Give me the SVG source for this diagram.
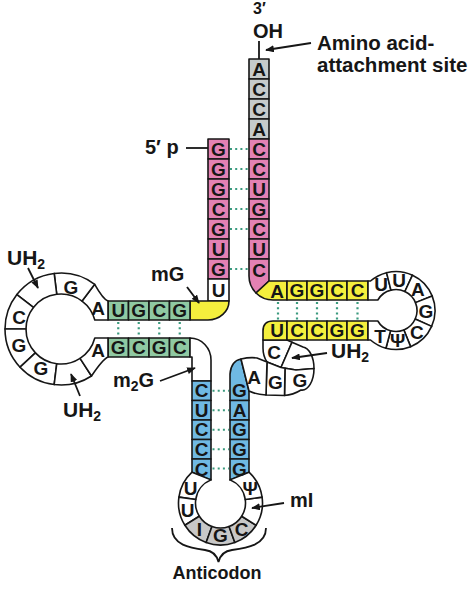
<svg xmlns="http://www.w3.org/2000/svg" width="474" height="594" viewBox="0 0 474 594">
<defs>
<style>
.c{stroke:#161616;stroke-width:1.6;stroke-linejoin:round}
.w{fill:#fff}.pk{fill:#e381b3}.gy{fill:#c6cbcb}.yl{fill:#f4ef3d}.gn{fill:#8fc9a2}.bl{fill:#6fb9e3}.ag{fill:#c8c8c8}
.nt{font-family:"Liberation Sans",Arial,sans-serif;font-weight:bold;font-size:19px;fill:#161616;text-anchor:middle;dominant-baseline:central}
.lb{font-family:"Liberation Sans",Arial,sans-serif;font-weight:bold;font-size:20px;fill:#161616}
.hb{fill:none;stroke:#3a9a7e;stroke-width:2.2;stroke-dasharray:2 3.2}
.ar{fill:none;stroke:#161616;stroke-width:1.8}
</style>
<marker id="ah" viewBox="0 0 10 8" refX="9" refY="4" markerWidth="9" markerHeight="7" markerUnits="userSpaceOnUse" orient="auto"><path d="M0,0 L10,4 L0,8 Z" fill="#161616"/></marker>
</defs>
<rect width="474" height="594" fill="#fff"/>

<g id="acceptor-stem">
<rect class="c gy" x="249" y="59" width="20" height="20"/>
<rect class="c gy" x="249" y="79" width="20" height="20"/>
<rect class="c gy" x="249" y="99" width="20" height="20"/>
<rect class="c gy" x="249" y="119" width="20" height="20"/>
<rect class="c pk" x="249" y="139" width="20" height="20"/>
<rect class="c pk" x="249" y="159" width="20" height="20"/>
<rect class="c pk" x="249" y="179" width="20" height="20"/>
<rect class="c pk" x="249" y="199" width="20" height="20"/>
<rect class="c pk" x="249" y="219" width="20" height="20"/>
<rect class="c pk" x="249" y="239" width="20" height="20"/>
<path class="c pk" d="M249,259 L269,259 L269,281 L256,293 A24,24 0 0,1 249,276 Z"/>
<rect class="c pk" x="208" y="139" width="21" height="20"/>
<rect class="c pk" x="208" y="159" width="21" height="20"/>
<rect class="c pk" x="208" y="179" width="21" height="20"/>
<rect class="c pk" x="208" y="199" width="21" height="20"/>
<rect class="c pk" x="208" y="219" width="21" height="20"/>
<rect class="c pk" x="208" y="239" width="21" height="20"/>
<rect class="c pk" x="208" y="259" width="21" height="20"/>
<rect class="c w" x="208" y="279" width="21" height="22"/>
<g class="nt">
<text x="259" y="69">A</text><text x="259" y="89">C</text><text x="259" y="109">C</text><text x="259" y="129">A</text>
<text x="259" y="149">C</text><text x="259" y="169">C</text><text x="259" y="189">U</text><text x="259" y="209">G</text>
<text x="259" y="229">C</text><text x="259" y="249">U</text><text x="259" y="270">C</text>
<text x="218.5" y="149">G</text><text x="218.5" y="169">G</text><text x="218.5" y="189">G</text><text x="218.5" y="209">C</text>
<text x="218.5" y="229">G</text><text x="218.5" y="249">U</text><text x="218.5" y="269">G</text><text x="218.5" y="290">U</text>
</g>
</g>

<g id="d-arm">
<path class="c yl" d="M190,301 L229,301 A21,19 0 0,1 208,320 L190,320 Z"/>
<rect class="c gn" x="108" y="301" width="20.5" height="19"/>
<rect class="c gn" x="128.5" y="301" width="20.5" height="19"/>
<rect class="c gn" x="149" y="301" width="20.5" height="19"/>
<rect class="c gn" x="169.5" y="301" width="20.5" height="19"/>
<rect class="c gn" x="108" y="338" width="20.5" height="19"/>
<rect class="c gn" x="128.5" y="338" width="20.5" height="19"/>
<rect class="c gn" x="149" y="338" width="20.5" height="19"/>
<rect class="c gn" x="169.5" y="338" width="20.5" height="19"/>
<path class="c w" d="M190,338 A21,22 0 0,1 211,360 L211,381 L192,381 L192,357 L190,357 Z"/>
<path class="c w" d="M94.7,284.28 Q103,299 108,301 L108,320 L94.82,320 A35,35 0 0,0 82.06,301.05 Z"/>
<path class="c w" d="M54.17,273.42 A56,56 0 0,1 94.7,284.28 L82.06,301.05 A35,35 0 0,0 56.73,294.26 Z"/>
<path class="c w" d="M16.87,294.52 A56,56 0 0,1 54.17,273.42 L56.73,294.26 A35,35 0 0,0 33.42,307.45 Z"/>
<path class="c w" d="M5,329 A56,56 0 0,1 16.87,294.52 L33.42,307.45 A35,35 0 0,0 26,329 Z"/>
<path class="c w" d="M20.04,367.19 A56,56 0 0,1 5,329 L26,329 A35,35 0 0,0 35.4,352.87 Z"/>
<path class="c w" d="M54.17,384.58 A56,56 0 0,1 20.04,367.19 L35.4,352.87 A35,35 0 0,0 56.73,363.74 Z"/>
<path class="c w" d="M91.5,375.97 A56,56 0 0,1 54.17,384.58 L56.73,363.74 A35,35 0 0,0 80.06,358.35 Z"/>
<path class="c w" d="M91.5,375.97 Q103,359 108,357 L108,338 L94.82,338 A35,35 0 0,1 80.06,358.35 Z"/>
<g class="nt">
<text x="118.25" y="310.5">U</text><text x="138.75" y="310.5">G</text><text x="159.25" y="310.5">C</text><text x="179.75" y="310.5">G</text>
<text x="118.25" y="347.5">G</text><text x="138.75" y="347.5">C</text><text x="159.25" y="347.5">G</text><text x="179.75" y="347.5">C</text>
<text x="98" y="308">A</text><text x="71" y="287">G</text><text x="19" y="317">C</text><text x="19" y="345">G</text>
<text x="41" y="368">G</text><text x="98" y="350">A</text>
</g>
</g>

<g id="anticodon-arm">
<rect class="c bl" x="192" y="381" width="19" height="19.5"/>
<rect class="c bl" x="192" y="400.5" width="19" height="19.5"/>
<rect class="c bl" x="192" y="420" width="19" height="19.5"/>
<rect class="c bl" x="192" y="439.5" width="19" height="19.5"/>
<path class="c bl" d="M192,459 L211,459 L211,479.88 L192,472.15 Z"/>
<path class="c bl" d="M230,400.5 L230,374 Q231,361 241,359 L249,391 L249,400.5 Z"/>
<rect class="c bl" x="230" y="400.5" width="19" height="19.5"/>
<rect class="c bl" x="230" y="420" width="19" height="19.5"/>
<rect class="c bl" x="230" y="439.5" width="19" height="19.5"/>
<path class="c bl" d="M230,459 L249,459 L249,472.15 L230,479.88 Z"/>
<path class="c w" d="M192,472.15 A42,42 0 0,0 178.91,497.15 L195.74,499.52 A25,25 0 0,1 211,479.88 Z"/>
<path class="c w" d="M178.91,497.15 A42,42 0 0,0 184.88,525.26 L199.3,516.25 A25,25 0 0,1 195.74,499.52 Z"/>
<path class="c ag" d="M184.88,525.26 A42,42 0 0,0 206.14,542.47 L211.95,526.49 A25,25 0 0,1 199.3,516.25 Z"/>
<path class="c ag" d="M206.14,542.47 A42,42 0 0,0 234.86,542.47 L229.05,526.49 A25,25 0 0,1 211.95,526.49 Z"/>
<path class="c ag" d="M234.86,542.47 A42,42 0 0,0 256.12,525.26 L241.7,516.25 A25,25 0 0,1 229.05,526.49 Z"/>
<path class="c w" d="M256.12,525.26 A42,42 0 0,0 262.09,497.15 L245.26,499.52 A25,25 0 0,1 241.7,516.25 Z"/>
<path class="c w" d="M262.09,497.15 A42,42 0 0,0 249,472.15 L230,479.88 A25,25 0 0,1 245.26,499.52 Z"/>
<g class="nt">
<text x="201.5" y="390.75">C</text><text x="201.5" y="410.25">U</text><text x="201.5" y="429.75">C</text><text x="201.5" y="449.25">C</text><text x="201.5" y="469">C</text>
<text x="239.5" y="390.75">G</text><text x="239.5" y="410.25">A</text><text x="239.5" y="429.75">G</text><text x="239.5" y="449.25">G</text><text x="239.5" y="469">G</text>
<text x="190.7" y="488">U</text><text x="187.7" y="510">U</text><text x="199.4" y="529">I</text><text x="220.5" y="535.5">G</text><text x="241.6" y="529">C</text><text x="250.3" y="488">Ψ</text>
</g>
</g>

<g id="variable-loop">
<path class="c w" d="M263,340 L287,340 L292,342.2 L281,367.5 L267,362 Q263,356 263,348 Z"/>
<path class="c w" d="M292,342.2 L303,347 A12,21.5 0 0,1 314,368.5 L296,370 L281,367.5 Z"/>
<path class="c w" d="M296,370 L314,368.5 A12,21.5 0 0,1 301,390 Q293,395 284.5,395.5 L285,368.2 Z"/>
<path class="c w" d="M285,368.2 L284.5,395.5 L266,395 L267,362 L281,367.5 Z"/>
<path class="c w" d="M241,359 Q250,357 257,358 L267,362 L266,395 Q256,394.5 249,391 Z"/>
<g class="nt">
<text x="274" y="352">C</text><text x="300" y="380">G</text><text x="275.5" y="382">G</text><text x="254" y="377">A</text>
</g>
</g>

<g id="t-arm">
<path class="c yl" d="M269,281 L287,281 L287,300 L273,300 A24,24 0 0,1 256,293 Z"/>
<rect class="c yl" x="287" y="281" width="20" height="19"/>
<rect class="c yl" x="307" y="281" width="20" height="19"/>
<rect class="c yl" x="327" y="281" width="20" height="19"/>
<rect class="c yl" x="347" y="281" width="21" height="19"/>
<path class="c yl" d="M273,321 L287,321 L287,340 L263,340 L263,331 Q263,321 273,321 Z"/>
<rect class="c yl" x="287" y="321" width="20" height="19"/>
<rect class="c yl" x="307" y="321" width="20" height="19"/>
<rect class="c yl" x="327" y="321" width="20" height="19"/>
<rect class="c yl" x="347" y="321" width="21" height="19"/>
<path class="c w" d="M368,281 L370.5,281 A39,39 0 0,1 386.57,272.66 L390.92,290.12 A21,21 0 0,0 377.8,300 L368,300 Z"/>
<path class="c w" d="M386.57,272.66 A39,39 0 0,1 412.48,275.15 L404.87,291.47 A21,21 0 0,0 390.92,290.12 Z"/>
<path class="c w" d="M412.48,275.15 A39,39 0 0,1 432.16,295.89 L415.47,302.63 A21,21 0 0,0 404.87,291.47 Z"/>
<path class="c w" d="M432.16,295.89 A39,39 0 0,1 431.63,326.36 L415.18,319.04 A21,21 0 0,0 415.47,302.63 Z"/>
<path class="c w" d="M431.63,326.36 A39,39 0 0,1 410.61,346.66 L403.87,329.97 A21,21 0 0,0 415.18,319.04 Z"/>
<path class="c w" d="M410.61,346.66 A39,39 0 0,1 385.91,348.17 L390.56,330.78 A21,21 0 0,0 403.87,329.97 Z"/>
<path class="c w" d="M385.91,348.17 A39,39 0 0,1 370.5,340 L368,340 L368,321 L377.8,321 A21,21 0 0,0 390.56,330.78 Z"/>
<g class="nt">
<text x="277" y="291">A</text><text x="297" y="290.5">G</text><text x="317" y="290.5">G</text><text x="337" y="290.5">C</text><text x="357.5" y="290.5">C</text>
<text x="277" y="330.5">U</text><text x="297" y="330.5">C</text><text x="317" y="330.5">C</text><text x="337" y="330.5">G</text><text x="357.5" y="330.5">G</text>
<text x="381" y="284.5">U</text><text x="399" y="280.6">U</text><text x="417.8" y="289.8">A</text><text x="426" y="311">G</text>
<text x="416.8" y="332.1">C</text><text x="397.8" y="340.4">Ψ</text><text x="380" y="336">T</text>
</g>
</g>

<g id="connectors">
<g id="base-pairs">
<line class="hb" x1="230" y1="149" x2="248" y2="149"/>
<line class="hb" x1="230" y1="169" x2="248" y2="169"/>
<line class="hb" x1="230" y1="189" x2="248" y2="189"/>
<line class="hb" x1="230" y1="209" x2="248" y2="209"/>
<line class="hb" x1="230" y1="229" x2="248" y2="229"/>
<line class="hb" x1="230" y1="269" x2="248" y2="269"/>
<line class="hb" x1="118.25" y1="322" x2="118.25" y2="337"/>
<line class="hb" x1="138.75" y1="322" x2="138.75" y2="337"/>
<line class="hb" x1="159.25" y1="322" x2="159.25" y2="337"/>
<line class="hb" x1="179.75" y1="322" x2="179.75" y2="337"/>
<line class="hb" x1="278" y1="302" x2="278" y2="320"/>
<line class="hb" x1="297" y1="302" x2="297" y2="320"/>
<line class="hb" x1="317" y1="302" x2="317" y2="320"/>
<line class="hb" x1="337" y1="302" x2="337" y2="320"/>
<line class="hb" x1="357.5" y1="302" x2="357.5" y2="320"/>
<line class="hb" x1="212.5" y1="390.75" x2="229" y2="390.75"/>
<line class="hb" x1="212.5" y1="410.25" x2="229" y2="410.25"/>
<line class="hb" x1="212.5" y1="429.75" x2="229" y2="429.75"/>
<line class="hb" x1="212.5" y1="449.25" x2="229" y2="449.25"/>
<line class="hb" x1="212.5" y1="468.5" x2="229" y2="468.5"/>
</g>
<path class="ar" d="M259,41 L259,59"/>
<path class="ar" d="M186,148 L208,148"/>
<path class="ar" d="M311,43 L266,50" marker-end="url(#ah)"/>
<path class="ar" d="M187,287 L199,303" marker-end="url(#ah)"/>
<path class="ar" d="M160,381 L195,368" marker-end="url(#ah)"/>
<path class="ar" d="M28,268 L38,288" marker-end="url(#ah)"/>
<path class="ar" d="M80,396 L71,374" marker-end="url(#ah)"/>
<path class="ar" d="M327,353 L292,358" marker-end="url(#ah)"/>
<path class="ar" d="M284,503 L252,508" marker-end="url(#ah)"/>
<path class="ar" d="M172,528 C172,545 190,548 205,550 C214,551 217,556 218.5,562 C220,556 223,551 232,550 C247,548 266,545 266,528"/>
</g>

<g id="label-3prime"><text class="lb" x="253" y="14" style="font-size:16px">3′</text><text class="lb" x="253" y="38" style="font-size:20px">OH</text></g>
<g id="label-amino"><text class="lb" x="317" y="50" style="font-size:20.5px">Amino acid-</text><text class="lb" x="317" y="72" style="font-size:20.5px">attachment site</text></g>
<g id="label-5prime"><text class="lb" x="145" y="154">5′ p</text></g>
<g id="label-uh2-d1"><text class="lb" x="7" y="265" style="font-size:21px">UH<tspan font-size="14" dy="4">2</tspan></text></g>
<g id="label-mg"><text class="lb" x="151" y="281">mG</text></g>
<g id="label-m2g"><text class="lb" x="113" y="387">m<tspan font-size="14" dy="4">2</tspan><tspan dy="-4">G</tspan></text></g>
<g id="label-uh2-d2"><text class="lb" x="63" y="417" style="font-size:21px">UH<tspan font-size="14" dy="4">2</tspan></text></g>
<g id="label-uh2-v"><text class="lb" x="331" y="358" style="font-size:21px">UH<tspan font-size="14" dy="4">2</tspan></text></g>
<g id="label-mi"><text class="lb" x="290" y="507">mI</text></g>
<g id="label-anticodon"><text class="lb" x="217" y="579" style="font-size:18px;text-anchor:middle">Anticodon</text></g>
</svg>
